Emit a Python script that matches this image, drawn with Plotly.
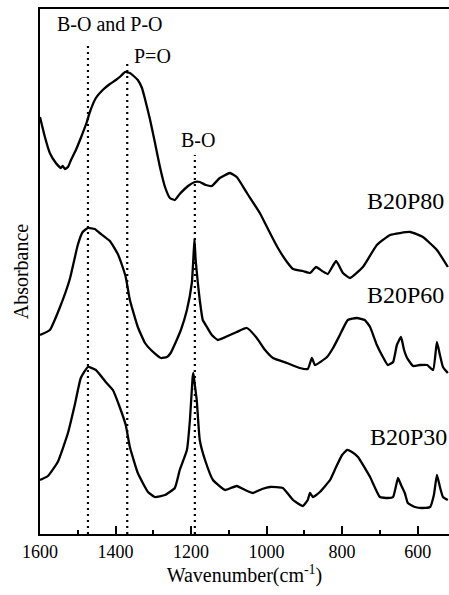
import plotly.graph_objects as go

# ---- data (wavenumber in cm^-1, absorbance in arbitrary offset units) ----
wn_b20p80 = [1600, 1587, 1574, 1558, 1545, 1540, 1534, 1526, 1518, 1505, 1492, 1476, 1468, 1452,
             1434, 1415, 1399, 1386, 1375, 1362, 1352, 1341, 1330, 1322, 1309, 1296, 1283, 1269,
             1256, 1243, 1230, 1208, 1190, 1177, 1161, 1145, 1124, 1097, 1079, 1052, 1018, 991,
             970, 946, 930, 904, 885, 869, 853, 838, 816, 798, 779, 745, 708, 673, 620, 586, 549, 520]
ab_b20p80 = [4.17, 3.97, 3.81, 3.71, 3.66, 3.68, 3.65, 3.67, 3.74, 3.84, 3.96, 4.12, 4.22, 4.36,
             4.44, 4.50, 4.54, 4.58, 4.62, 4.61, 4.58, 4.54, 4.46, 4.35, 4.15, 3.92, 3.68, 3.47,
             3.36, 3.34, 3.40, 3.48, 3.52, 3.52, 3.49, 3.48, 3.56, 3.61, 3.57, 3.41, 3.21, 3.01,
             2.86, 2.72, 2.65, 2.63, 2.61, 2.67, 2.63, 2.60, 2.73, 2.61, 2.56, 2.67, 2.89, 2.99,
             3.02, 2.97, 2.84, 2.67]

wn_b20p60 = [1600, 1574, 1548, 1521, 1500, 1487, 1473, 1455, 1442, 1415, 1394, 1383, 1373, 1362,
             1341, 1322, 1306, 1280, 1264, 1254, 1238, 1227, 1211, 1198, 1194, 1191, 1188, 1182,
             1177, 1169, 1158, 1145, 1129, 1097, 1079, 1052, 1026, 1004, 983, 946, 912, 891, 880,
             872, 840, 824, 806, 785, 761, 740, 726, 708, 692, 679, 665, 655, 644, 636, 628, 612,
             594, 575, 559, 549, 541, 533, 520]
ab_b20p60 = [1.99, 2.04, 2.26, 2.55, 2.89, 3.02, 3.06, 3.05, 3.01, 2.93, 2.80, 2.69, 2.57, 2.34,
             2.07, 1.91, 1.84, 1.76, 1.77, 1.81, 1.94, 2.04, 2.24, 2.51, 2.75, 2.95, 2.75, 2.51,
             2.34, 2.14, 2.07, 1.99, 1.94, 1.99, 2.02, 2.06, 1.96, 1.84, 1.76, 1.71, 1.66, 1.65,
             1.76, 1.69, 1.77, 1.86, 1.99, 2.14, 2.16, 2.14, 2.07, 1.89, 1.77, 1.69, 1.72, 1.89,
             1.97, 1.84, 1.76, 1.68, 1.69, 1.69, 1.64, 1.92, 1.79, 1.67, 1.61]

wn_b20p30 = [1600, 1579, 1553, 1526, 1508, 1492, 1473, 1452, 1426, 1407, 1389, 1373, 1362, 1341,
             1314, 1296, 1269, 1243, 1230, 1211, 1203, 1196, 1194, 1191, 1185, 1177, 1163, 1142,
             1110, 1095, 1079, 1057, 1036, 1012, 991, 957, 930, 904, 891, 885, 877, 859, 832, 816,
             800, 787, 774, 758, 726, 700, 679, 665, 652, 644, 634, 626, 607, 589, 567, 557, 549,
             541, 533, 520]
ab_b20p30 = [0.54, 0.58, 0.72, 1.01, 1.29, 1.56, 1.67, 1.64, 1.52, 1.44, 1.27, 1.09, 0.87, 0.61,
             0.42, 0.37, 0.39, 0.46, 0.64, 0.84, 1.14, 1.56, 1.61, 1.52, 1.34, 0.94, 0.74, 0.54,
             0.44, 0.46, 0.48, 0.44, 0.41, 0.45, 0.47, 0.46, 0.34, 0.28, 0.34, 0.41, 0.37, 0.42,
             0.54, 0.67, 0.79, 0.84, 0.82, 0.77, 0.57, 0.37, 0.36, 0.37, 0.56, 0.49, 0.41, 0.31,
             0.27, 0.26, 0.27, 0.39, 0.59, 0.47, 0.37, 0.34]

series_names = ["B20P80", "B20P60", "B20P30"]
label_pos_wn = [740, 740, 732]
label_pos_ab = [3.33, 2.39, 0.97]

band_wn = [1473, 1369, 1190]
band_top = [4.92, 4.72, 3.79]
band_labels = ["B-O and P-O", "P=O", "B-O"]
band_label_wn = [1415, 1302, 1182]
band_label_ab = [5.10, 4.78, 3.94]

x_range = [1600, 517]
y_range = [0, 5.25]

FONT = "Liberation Serif"

fig = go.Figure()
for wn, ab, name in zip([wn_b20p80, wn_b20p60, wn_b20p30],
                        [ab_b20p80, ab_b20p60, ab_b20p30], series_names):
    fig.add_trace(go.Scatter(x=wn, y=ab, mode="lines", name=name,
                             line=dict(color="black", width=2.3, shape="spline", smoothing=0.4),
                             showlegend=False))

for xw, top in zip(band_wn, band_top):
    fig.add_trace(go.Scatter(x=[xw, xw], y=[0, top], mode="lines", showlegend=False,
                             line=dict(color="black", width=2.2, dash="2px,4px")))

for t, xw, yv in zip(band_labels, band_label_wn, band_label_ab):
    fig.add_annotation(x=xw, y=yv, text=t, showarrow=False, xanchor="center", yanchor="middle",
                       font=dict(family=FONT, size=20, color="black"))

for t, xw, yv in zip(series_names, label_pos_wn, label_pos_ab):
    fig.add_annotation(x=xw, y=yv, text=t, showarrow=False, xanchor="left", yanchor="middle",
                       font=dict(family=FONT, size=24, color="black"))

fig.update_layout(
    width=449, height=595,
    margin=dict(l=40, r=0, t=9, b=61),
    plot_bgcolor="white", paper_bgcolor="white",
    font=dict(family=FONT, color="black"),
)
fig.update_xaxes(
    range=x_range, dtick=200, tick0=600, ticks="inside", ticklen=8, tickwidth=1.5,
    tickcolor="black", showline=True, linewidth=2, linecolor="black", mirror=True,
    showgrid=False, zeroline=False, tickfont=dict(family=FONT, size=18, color="black"),
    minor=dict(dtick=100, tick0=600, ticks="inside", ticklen=4, tickwidth=1.5, tickcolor="black"),
    title=dict(text="Wavenumber(cm<sup>-1</sup>)", font=dict(family=FONT, size=20, color="black"),
               standoff=6),
)
fig.update_yaxes(
    range=y_range, showticklabels=False, ticks="", showline=True, linewidth=2,
    linecolor="black", showgrid=False, zeroline=False,
    title=dict(text="Absorbance", font=dict(family=FONT, size=20, color="black"), standoff=4),
)

fig.write_html("out.html", config={"displayModeBar": False},
               post_script="document.body.style.margin='0';")
